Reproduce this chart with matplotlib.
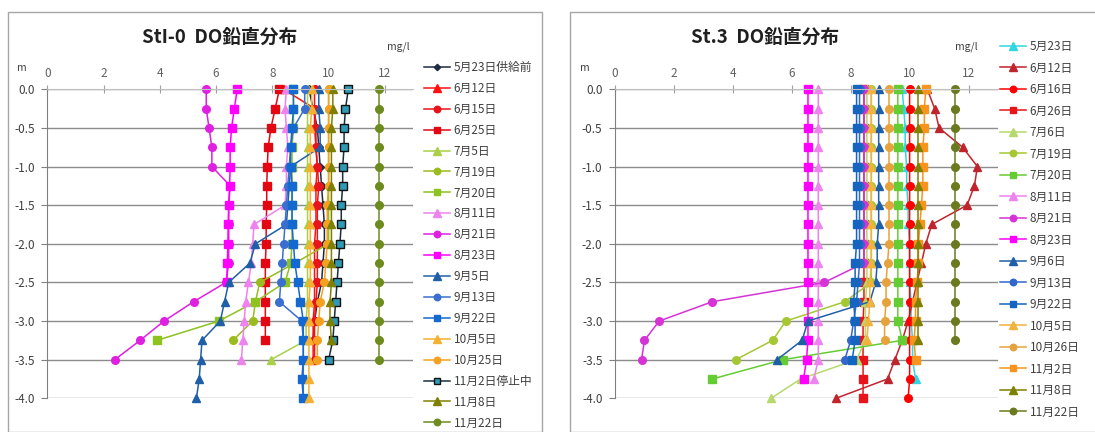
import matplotlib
matplotlib.use("Agg")
import matplotlib.pyplot as plt
import numpy as np
from matplotlib.patches import Rectangle

plt.rcParams['font.family'] = ['Noto Sans CJK JP', 'DejaVu Sans']

nan = np.nan
depths = [0.0, -0.25, -0.5, -0.75, -1.0, -1.25, -1.5, -1.75, -2.0,
          -2.25, -2.5, -2.75, -3.0, -3.25, -3.5, -3.75, -4.0]

# St1-0 station: DO (mg/l) per survey date, one value per depth
st1_labels = ["5月23日供給前", "6月12日", "6月15日", "6月25日", "7月5日", "7月19日",
              "7月20日", "8月11日", "8月21日", "8月23日", "9月5日", "9月13日",
              "9月22日", "10月5日", "10月25日", "11月2日停止中", "11月8日", "11月22日"]
st1_values = [
    [9.3, 9.45, 9.6, 9.65, 9.7, 9.75, 9.8, 9.85, 9.85, 9.8, 9.75, 9.6, 9.5, 9.45, nan, nan, nan],
    [8.4, 9.5, 9.55, 9.55, 9.6, 9.55, 9.55, 9.55, 9.5, 9.5, 9.5, 9.5, 9.45, 9.45, 9.45, nan, nan],
    [9.5, 9.5, 9.5, 9.55, 9.6, 9.65, 9.6, 9.6, 9.6, 9.6, 9.6, 9.55, 9.5, 9.5, 9.5, nan, nan],
    [8.25, 8.1, 7.95, 7.85, 7.82, 7.8, 7.8, 7.78, 7.78, 7.75, 7.75, 7.75, 7.75, 7.75, nan, nan, nan],
    [9.25, 9.25, 9.25, 9.25, 9.25, 9.25, 9.25, 9.25, 9.25, 9.25, 9.25, 9.25, 9.2, 9.2, 7.95, nan, nan],
    [10.0, 10.0, 10.0, 10.0, 10.0, 10.0, 10.0, 10.0, 10.0, 8.8, 7.55, 7.4, 7.3, 6.6, nan, nan, nan],
    [8.75, 8.75, 8.75, 8.7, 8.7, 8.7, 8.7, 8.7, 8.7, 8.65, 8.45, 7.4, 6.1, 3.9, nan, nan, nan],
    [8.5, 8.45, 8.5, 8.55, 8.5, 8.5, 8.45, 7.35, 7.3, 7.25, 7.15, 7.05, 7.0, 6.95, 6.9, nan, nan],
    [5.65, 5.65, 5.75, 5.85, 5.85, 6.5, 6.45, 6.45, 6.45, 6.45, 6.35, 5.2, 4.15, 3.3, 2.4, nan, nan],
    [6.75, 6.65, 6.55, 6.5, 6.5, 6.48, 6.45, 6.43, 6.42, 6.4, 6.38, nan, nan, nan, nan, nan, nan],
    [9.65, 9.65, 9.7, 9.7, 8.65, 8.6, 8.55, 8.5, 7.4, 7.2, 6.45, 6.3, 6.15, 5.5, 5.45, 5.4, 5.3],
    [9.15, 9.15, 8.75, 8.65, 8.6, 8.55, 8.5, 8.45, 8.4, 8.35, 8.3, 8.25, 9.05, 9.1, 9.1, 9.1, 9.1],
    [8.75, 8.75, 8.7, 8.65, 8.65, 8.7, 8.7, 8.7, 8.75, 8.8, 8.9, 9.0, 9.1, 9.1, 9.1, 9.05, 9.1],
    [9.4, 9.4, 9.35, 9.35, 9.35, 9.35, 9.35, 9.35, 9.35, 9.35, 9.35, 9.3, 9.3, 9.3, 9.3, 9.3, 9.3],
    [10.0, 10.0, 10.0, 10.0, 10.0, 10.0, 9.95, 9.95, 9.95, 9.9, 9.85, 9.7, 9.65, 9.6, 9.6, nan, nan],
    [10.7, 10.6, 10.55, 10.55, 10.5, 10.5, 10.45, 10.45, 10.4, 10.35, 10.3, 10.25, 10.2, 10.15, 10.0, nan, nan],
    [10.15, 10.15, 10.1, 10.1, 10.1, 10.1, 10.1, 10.1, 10.1, 10.1, 10.1, 10.05, 10.05, 10.1, nan, nan, nan],
    [11.8, 11.8, 11.8, 11.8, 11.8, 11.8, 11.8, 11.8, 11.8, 11.8, 11.8, 11.8, 11.8, 11.8, 11.8, nan, nan],
]

# St.3 station
st3_labels = ["5月23日", "6月12日", "6月16日", "6月26日", "7月6日", "7月19日",
              "7月20日", "8月11日", "8月21日", "8月23日", "9月6日", "9月13日",
              "9月22日", "10月5日", "10月26日", "11月2日", "11月8日", "11月22日"]
st3_values = [
    [9.75, 9.8, 9.85, 9.85, 9.9, 9.9, 9.95, 9.95, 10.0, 10.0, 10.0, 10.05, 10.05, 10.1, 10.1, 10.2, nan],
    [10.6, 10.85, 11.0, 11.8, 12.3, 12.2, 11.95, 10.75, 10.55, 10.4, 10.25, 10.1, 9.95, 9.75, 9.5, 9.25, 7.5],
    [10.0, 10.0, 10.0, 10.0, 10.0, 10.0, 10.0, 10.0, 10.0, 10.0, 10.0, 10.0, 10.0, 10.0, 10.0, 10.0, 9.95],
    [8.45, 8.45, 8.45, 8.45, 8.45, 8.45, 8.45, 8.45, 8.45, 8.45, 8.45, 8.45, 8.42, 8.42, 8.42, 8.42, 8.42],
    [8.55, 8.55, 8.55, 8.55, 8.55, 8.55, 8.55, 8.55, 8.55, 8.55, 8.55, 8.5, 8.5, 8.5, 8.2, 6.3, 5.3],
    [8.7, 8.7, 8.7, 8.7, 8.7, 8.7, 8.7, 8.7, 8.7, 8.7, 8.7, 7.8, 5.8, 5.35, 4.1, nan, nan],
    [9.6, 9.6, 9.6, 9.6, 9.6, 9.6, 9.6, 9.6, 9.6, 9.6, 9.6, 9.6, 9.6, 9.75, 5.7, 3.3, nan],
    [6.9, 6.9, 6.9, 6.9, 6.9, 6.9, 6.9, 6.9, 6.9, 6.9, 6.9, 6.9, 6.9, 6.9, 6.9, 6.75, nan],
    [8.45, 8.45, 8.45, 8.45, 8.45, 8.45, 8.45, 8.45, 8.45, 8.45, 7.1, 3.3, 1.5, 1.0, 0.9, nan, nan],
    [6.55, 6.55, 6.55, 6.55, 6.55, 6.55, 6.55, 6.55, 6.55, 6.55, 6.55, 6.55, 6.55, 6.55, 6.5, 6.4, nan],
    [8.95, 8.95, 8.95, 8.95, 8.95, 8.95, 8.95, 8.95, 8.9, 8.9, 8.85, 8.65, 6.55, 6.35, 5.5, nan, nan],
    [8.3, 8.3, 8.3, 8.3, 8.3, 8.3, 8.3, 8.3, 8.3, 8.3, 8.25, 8.2, 8.1, 8.0, 7.8, nan, nan],
    [8.2, 8.2, 8.2, 8.2, 8.2, 8.2, 8.2, 8.2, 8.2, 8.15, 8.15, 8.1, 8.15, 8.15, 8.05, nan, nan],
    [8.7, 8.7, 8.7, 8.7, 8.7, 8.7, 8.7, 8.7, 8.7, 8.7, 8.65, 8.65, 8.6, 8.55, nan, nan, nan],
    [9.3, 9.3, 9.3, 9.3, 9.3, 9.3, 9.3, 9.3, 9.3, 9.25, 9.2, 9.2, 9.15, 9.15, nan, nan, nan],
    [10.55, 10.5, 10.5, 10.45, 10.45, 10.45, 10.4, 10.35, 10.3, 10.3, 10.25, 10.2, 10.2, 10.15, 10.2, nan, nan],
    [10.3, 10.3, 10.3, 10.3, 10.3, 10.3, 10.3, 10.3, 10.3, 10.3, 10.3, 10.3, 10.3, 10.3, nan, nan, nan],
    [11.55, 11.55, 11.55, 11.55, 11.55, 11.55, 11.55, 11.55, 11.55, 11.55, 11.55, 11.55, 11.55, 11.55, nan, nan, nan],
]

st1_styles = [
    ("#1F2A44", "D"), ("#FF1010", "^"), ("#E8141B", "o"), ("#E30613", "s"),
    ("#A9D046", "^"), ("#9BBB1F", "o"), ("#8DC21F", "s"), ("#EE82EE", "^"),
    ("#E020E0", "o"), ("#FF00FF", "s"), ("#1F5FA8", "^"), ("#3A6FD0", "o"),
    ("#1469D0", "s"), ("#F4B030", "^"), ("#F5A020", "o"), ("#2E9AB5", "s"),
    ("#7F8000", "^"), ("#6E8B1E", "o"),
]
st3_styles = [
    ("#33D6E0", "^"), ("#C0242C", "^"), ("#FF0000", "o"), ("#E8141B", "s"),
    ("#B5D96B", "^"), ("#A5C832", "o"), ("#66CC33", "s"), ("#EE82EE", "^"),
    ("#D633D6", "o"), ("#FF00FF", "s"), ("#1F5FA8", "^"), ("#3366CC", "o"),
    ("#1565C0", "s"), ("#F2B33D", "^"), ("#E6A23C", "o"), ("#F7941D", "s"),
    ("#7F7F00", "^"), ("#6B7A1E", "o"),
]
marker_size = {"D": 3.8, "^": 6.0, "o": 5.5, "s": 5.3}

W, H = 1095, 432
fig = plt.figure(figsize=(W / 100, H / 100), dpi=100)
fig.patch.set_facecolor("white")


def px(x0, y0, x1, y1):
    return [x0 / W, 1 - y1 / H, (x1 - x0) / W, (y1 - y0) / H]


def draw_panel(rect, values, labels, styles, title, title_x, mg_x, m_x, leg_xy, leg_space):
    ax = fig.add_axes(rect)
    for vals, lab, (col, mk) in zip(values, labels, styles):
        ms = marker_size[mk]
        if lab.endswith("停止中"):
            ax.plot(vals, depths, color="#1B2F3B", lw=1.1, marker=mk, ms=ms,
                    mfc=col, mec="#111111", mew=1.0, label=lab, clip_on=False)
        else:
            ax.plot(vals, depths, color=col, lw=1.1, marker=mk, ms=ms,
                    mfc=col, mec=col, label=lab, clip_on=False)
    ax.set_xlim(0, 13)
    ax.set_ylim(-4.0, 0.0)
    ax.set_xticks([0, 2, 4, 6, 8, 10, 12])
    ax.set_yticks(np.arange(0, -4.01, -0.5))
    ax.yaxis.set_major_formatter(matplotlib.ticker.FormatStrFormatter("%.1f"))
    ax.xaxis.tick_top()
    ax.tick_params(axis="x", direction="inout", length=6, color="#a0a0a0",
                   labelsize=8.5, labelcolor="#606060", pad=4)
    ax.tick_params(axis="y", direction="out", length=4, color="#808080",
                   labelsize=8.5, labelcolor="#404040", pad=5)
    for s in ("right", "bottom"):
        ax.spines[s].set_visible(False)
    ax.spines["top"].set_color("#c0c0c0")
    ax.spines["left"].set_color("#808080")
    ax.grid(axis="y", color="#8c8c8c", lw=1.0)
    ax.set_axisbelow(True)
    ax.set_facecolor("none")
    fig.text(title_x / W, 1 - 37 / H, title, fontsize=13.5, fontweight="bold",
             ha="center", va="center", color="#202020")
    fig.text(mg_x / W, 1 - 47 / H, "mg/l", fontsize=7.5, ha="center", va="center", color="#404040")
    fig.text(m_x / W, 1 - 68 / H, "m", fontsize=7.5, ha="center", va="center", color="#404040")
    leg = ax.legend(loc="upper left", bbox_to_anchor=(leg_xy[0] / W, 1 - leg_xy[1] / H),
                    bbox_transform=fig.transFigure, frameon=False, fontsize=8.5,
                    handlelength=2.2, handletextpad=0.3, labelspacing=leg_space,
                    borderpad=0, borderaxespad=0, markerscale=0.85)
    for t in leg.get_texts():
        t.set_color("#404040")
    return ax


# panel frames
fig.add_artist(Rectangle((8 / W, 0), (542 - 8) / W, 1 - 12 / H, transform=fig.transFigure,
                         fill=False, edgecolor="#a6a6a6", lw=1.0))
fig.add_artist(Rectangle((570 / W, 0), (1100 - 570) / W, 1 - 12 / H, transform=fig.transFigure,
                         fill=False, edgecolor="#a6a6a6", lw=1.0))

draw_panel(px(47.3, 89.3, 413, 398.3), st1_values, st1_labels, st1_styles,
           "StI-0  DO鉛直分布", 220, 398, 22, (424, 61), 0.67)
draw_panel(px(615, 89.3, 998, 398.3), st3_values, st3_labels, st3_styles,
           "St.3  DO鉛直分布", 765, 966, 585, (1000, 40), 0.72)

fig.savefig("out.png", dpi=100)
